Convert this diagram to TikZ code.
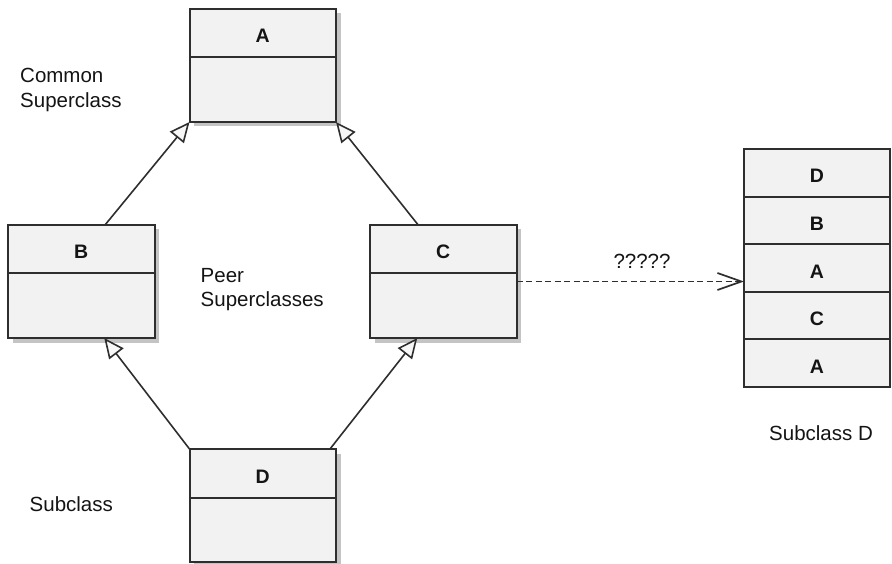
\documentclass[tikz,border=0pt]{standalone}
\usepackage{fontspec}
\setmainfont{Liberation Sans}
\usetikzlibrary{arrows.meta,shadows,calc}
\definecolor{boxfill}{HTML}{F2F2F2}
\definecolor{edge}{HTML}{2E2E2E}
\definecolor{shade}{HTML}{C4C4C4}
\definecolor{ink}{HTML}{141414}
\begin{document}
\begin{tikzpicture}[x=1pt,y=-1pt,
  cls/.style={draw=edge, line width=2pt, fill=boxfill, rectangle, inner sep=0pt, outer sep=0pt, anchor=north west,
    minimum width=146.5pt, minimum height=113pt,
    drop shadow={shadow xshift=4.5pt, shadow yshift=-4.5pt, fill=shade, opacity=1, draw=none}},
  rowbox/.style={draw=edge, line width=2pt, fill=boxfill, rectangle, inner sep=0pt, outer sep=0pt, anchor=north west,
    minimum width=146pt, minimum height=47.6pt},
  hdr/.style={font=\fontsize{19.5}{22}\selectfont\bfseries, text=ink, anchor=base, inner sep=0pt},
  lbl/.style={font=\fontsize{20.5}{24.5}\selectfont, text=ink, align=left, inner sep=0pt, anchor=base west},
  divline/.style={draw=edge, line width=2pt},
  inh/.style={draw=edge, line width=1.6pt, -{Triangle[open, fill=boxfill!60!white, length=20pt, width=18pt]}},
  dep/.style={draw=edge, line width=1.7pt, dash pattern=on 6pt off 3.5pt, -{Straight Barb[length=24pt, width=17pt]}}]

\useasboundingbox (0,0) rectangle (892,564);

% class boxes
\node[cls] (A) at (189.5,9) {};
\node[cls] (B) at (8,225) {};
\node[cls] (C) at (370,225) {};
\node[cls] (D) at (189.5,449) {};

\foreach \n in {A,B,C,D}{
  \draw[divline] ([yshift=-48.5pt]\n.north west) -- ([yshift=-48.5pt]\n.north east);
}
\node[hdr] (Ah) at ([yshift=-34pt]A.north) {A};
\node[hdr] (Bh) at ([yshift=-34pt]B.north) {B};
\node[hdr] (Ch) at ([yshift=-34pt]C.north) {C};
\node[hdr] (Dh) at ([yshift=-34pt]D.north) {D};

% stacked resolution
\node[rowbox] (R1) at (744,149) {};
\node[rowbox] (R2) at (R1.south west) {};
\node[rowbox] (R3) at (R2.south west) {};
\node[rowbox] (R4) at (R3.south west) {};
\node[rowbox] (R5) at (R4.south west) {};
\node[hdr] (R1t) at ([yshift=-34pt]R1.north) {D};
\node[hdr] (R2t) at ([yshift=-34pt]R2.north) {B};
\node[hdr] (R3t) at ([yshift=-34pt]R3.north) {A};
\node[hdr] (R4t) at ([yshift=-34pt]R4.north) {C};
\node[hdr] (R5t) at ([yshift=-34pt]R5.north) {A};

% labels (base = last line baseline)
\node[lbl] (common) at (20,107.5) {Common\\Superclass};
\node[lbl] (peer) at (200.5,306.5) {Peer\\Superclasses};
\node[lbl] (sub) at (29.5,511.7) {Subclass};
\node[lbl] (subd) at (769,440) {Subclass D};

% connectors
\draw[inh] ([xshift=23.75pt]B.north) -- (A.south west);
\draw[inh] ([xshift=-25pt]C.north) -- (A.south east);
\draw[inh] (D.north west) -- ([xshift=23pt]B.south);
\draw[inh] ([xshift=-6pt]D.north east) -- ([xshift=-26pt]C.south);
\draw[dep] (C.east) -- (C.east -| R3.west);
\node[font=\fontsize{20.5}{24}\selectfont, text=ink, anchor=base, inner sep=0pt] (q) at (642,269) {?????};
\end{tikzpicture}
\end{document}
